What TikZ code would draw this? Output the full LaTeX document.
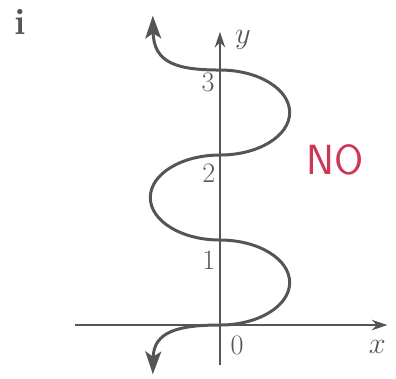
\documentclass[tikz,border=0pt]{standalone}
\usepackage{tikz}
\usetikzlibrary{positioning}
\usetikzlibrary{calc}
\usetikzlibrary{arrows.meta}
\definecolor{inkgray}{RGB}{85,85,85}
\definecolor{markred}{RGB}{205,55,85}

\begin{document}
\begin{tikzpicture}[x=1.7cm, y=1.7cm,
    axis/.style={draw=inkgray, line width=0.9pt, -{Stealth[length=9pt, width=6pt]}},
    relation/.style={draw=inkgray, line width=1.7pt},
    tip/.style={-{Stealth[length=13pt, width=9pt, inset=3pt]}},
    tick/.style={inner sep=0pt, text=inkgray, font=\fontsize{16}{18}\selectfont}]
    \useasboundingbox (-2.588,-0.624) rectangle (2.071,3.824);

    \coordinate (o) at (0,0);
    \coordinate (xs) at (-1.7,0);
    \coordinate (xe) at (1.97,0);
    \coordinate (ys) at (0,-0.47);
    \coordinate (ye) at (0,3.45);

    \coordinate (p3) at (0,3);
    \coordinate (lo) at (-0.79,-0.58);
    \coordinate (hi) at (-0.79,3.64);

    \draw[axis] (xs) -- (xe);
    \draw[axis] (ys) -- (ye);

    % the S-shaped relation
    \draw[relation] (o) arc[start angle=-90, end angle=90, x radius=0.82, y radius=0.5]
        arc[start angle=270, end angle=90, x radius=0.82, y radius=0.5]
        arc[start angle=-90, end angle=90, x radius=0.82, y radius=0.5];
    \draw[relation, tip] (o) .. controls (-0.5,0) and (-0.78,-0.08) .. (lo);
    \draw[relation, tip] (p3) .. controls (-0.5,3) and (-0.78,3.08) .. (hi);

    \node[tick] (t0) at (0.2,-0.235) {0};
    \node[tick] (t1) at (-0.13,0.76) {1};
    \node[tick] (t2) at (-0.13,1.79) {2};
    \node[tick] (t3) at (-0.14,2.85) {3};
    \node[tick] (lx) at (1.85,-0.26) {$x$};
    \node[tick] (ly) at (0.27,3.35) {$y$};
    \node[tick, font=\fontsize{21}{24}\selectfont] (part) at (-2.35,3.56) {\textbf{i}};
    \node[inner sep=0pt, text=markred, font=\sffamily\fontsize{24}{26}\selectfont] (verdict) at (1.35,1.94) {NO};
\end{tikzpicture}
\end{document}
